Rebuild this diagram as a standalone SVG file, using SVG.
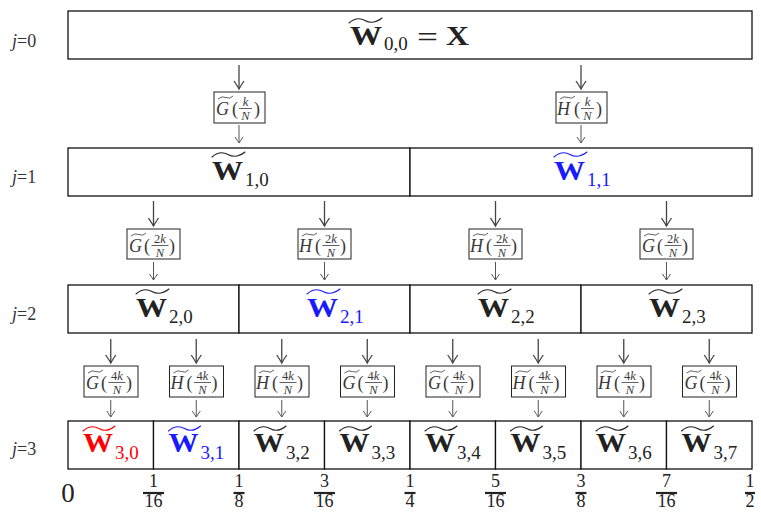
<svg xmlns="http://www.w3.org/2000/svg" width="761" height="512" viewBox="0 0 761 512">
<defs>
<style>
text{font-family:"Liberation Serif","Times New Roman",serif}
.cell{fill:#fff;stroke:#111;stroke-width:1.3}
.fbox{fill:#fff;stroke:#222;stroke-width:1}
.W{font-weight:bold;font-size:27px}
.sub{font-size:19px}
.til{fill:none;stroke-width:1.1;stroke-linecap:round}
.jl{font-size:18px;fill:#333}
.ff{fill:#3a3a3a}
.fl{font-size:18px;font-style:italic}
.fp{font-size:18px}
.fn{font-size:12.5px;text-anchor:middle}
.fbar{stroke:#3a3a3a;stroke-width:0.8}
.ft{fill:none;stroke:#3a3a3a;stroke-width:0.8}
.big{stroke:#444;stroke-width:1.3;fill:none;marker-end:url(#hb)}
.sml{stroke:#555;stroke-width:1;fill:none;marker-end:url(#hs)}
.ax{font-size:18px;fill:#222;text-anchor:middle}
.axbar{stroke:#222;stroke-width:2.2}
.blk{stroke:#222}
.red{stroke:#ff0000}
.blue{stroke:#1a1aff}
</style>
<marker id="hb" viewBox="-9 -6 11 12" refX="0" refY="0" markerWidth="11" markerHeight="12" markerUnits="userSpaceOnUse" orient="auto">
<path d="M-8,-5 Q-2,-1 0,0 Q-2,1 -8,5" fill="none" stroke="#444" stroke-width="1.3"/>
</marker>
<marker id="hs" viewBox="-7 -5 9 10" refX="0" refY="0" markerWidth="9" markerHeight="10" markerUnits="userSpaceOnUse" orient="auto">
<path d="M-6,-4 Q-1.5,-1 0,0 Q-1.5,1 -6,4" fill="none" stroke="#555" stroke-width="1"/>
</marker>
</defs>
<rect width="761" height="512" fill="#fff"/>

<g id="level-labels">
<text class="jl" x="12" y="47"><tspan font-style="italic">j</tspan>=0</text>
<text class="jl" x="12" y="183"><tspan font-style="italic">j</tspan>=1</text>
<text class="jl" x="12" y="320"><tspan font-style="italic">j</tspan>=2</text>
<text class="jl" x="12" y="455"><tspan font-style="italic">j</tspan>=3</text>
</g>

<!-- row 0 -->
<g id="W00">
<rect class="cell" x="68" y="11" width="684" height="48" stroke-width="1.6"/>
<path class="til blk" d="M349,23 Q357,16 365,20.5 T382,18"/>
<text class="W" x="350" y="45" fill="#222" textLength="32" lengthAdjust="spacingAndGlyphs">W</text>
<text class="sub" x="384" y="50" fill="#222">0,0</text>
<text x="417" y="47" style="font-size:30px" fill="#222" textLength="21" lengthAdjust="spacingAndGlyphs">=</text>
<text class="W" x="446" y="45" fill="#222" textLength="23" lengthAdjust="spacingAndGlyphs">X</text>
</g>

<!-- row 1 -->
<g id="W10">
<rect class="cell" x="68" y="148" width="342" height="48"/>
<path class="til blk" d="M212,157 Q220,150 228,154.5 T245,152"/>
<text class="W" x="212" y="180" fill="#222" textLength="31" lengthAdjust="spacingAndGlyphs">W</text>
<text class="sub" x="245" y="186" fill="#222">1,0</text>
</g>
<g id="W11">
<rect class="cell" x="410" y="148" width="342" height="48"/>
<path class="til blue" d="M554,157 Q562,150 570,154.5 T587,152"/>
<text class="W" x="554" y="180" fill="#1a1aff" textLength="31" lengthAdjust="spacingAndGlyphs">W</text>
<text class="sub" x="587" y="186" fill="#1a1aff">1,1</text>
</g>

<!-- row 2 -->
<g id="W20">
<rect class="cell" x="68" y="285" width="171" height="48"/>
<path class="til blk" d="M136,294 Q144,287 152,291.5 T169,289"/>
<text class="W" x="136" y="317" fill="#222" textLength="31" lengthAdjust="spacingAndGlyphs">W</text>
<text class="sub" x="169" y="323" fill="#222">2,0</text>
</g>
<g id="W21">
<rect class="cell" x="239" y="285" width="171" height="48"/>
<path class="til blue" d="M307,294 Q315,287 323,291.5 T340,289"/>
<text class="W" x="307" y="317" fill="#1a1aff" textLength="31" lengthAdjust="spacingAndGlyphs">W</text>
<text class="sub" x="340" y="323" fill="#1a1aff">2,1</text>
</g>
<g id="W22">
<rect class="cell" x="410" y="285" width="171" height="48"/>
<path class="til blk" d="M478,294 Q486,287 494,291.5 T511,289"/>
<text class="W" x="478" y="317" fill="#222" textLength="31" lengthAdjust="spacingAndGlyphs">W</text>
<text class="sub" x="511" y="323" fill="#222">2,2</text>
</g>
<g id="W23">
<rect class="cell" x="581" y="285" width="171" height="48"/>
<path class="til blk" d="M649,294 Q657,287 665,291.5 T682,289"/>
<text class="W" x="649" y="317" fill="#222" textLength="31" lengthAdjust="spacingAndGlyphs">W</text>
<text class="sub" x="682" y="323" fill="#222">2,3</text>
</g>

<!-- row 3 -->
<g id="W30">
<rect class="cell" x="68" y="421" width="85.5" height="48"/>
<path class="til red" d="M83,431 Q91,424 99,428.5 T115,426"/>
<text class="W" x="83" y="452" fill="#ff0000" textLength="30" lengthAdjust="spacingAndGlyphs">W</text>
<text class="sub" x="115" y="459" fill="#ff0000">3,0</text>
</g>
<g id="W31">
<rect class="cell" x="153.5" y="421" width="85.5" height="48"/>
<path class="til blue" d="M168.5,431 Q176.5,424 184.5,428.5 T200.5,426"/>
<text class="W" x="168.5" y="452" fill="#1a1aff" textLength="30" lengthAdjust="spacingAndGlyphs">W</text>
<text class="sub" x="200.5" y="459" fill="#1a1aff">3,1</text>
</g>
<g id="W32">
<rect class="cell" x="239" y="421" width="85.5" height="48"/>
<path class="til blk" d="M254,431 Q262,424 270,428.5 T286,426"/>
<text class="W" x="254" y="452" fill="#222" textLength="30" lengthAdjust="spacingAndGlyphs">W</text>
<text class="sub" x="286" y="459" fill="#222">3,2</text>
</g>
<g id="W33">
<rect class="cell" x="324.5" y="421" width="85.5" height="48"/>
<path class="til blk" d="M339.5,431 Q347.5,424 355.5,428.5 T371.5,426"/>
<text class="W" x="339.5" y="452" fill="#222" textLength="30" lengthAdjust="spacingAndGlyphs">W</text>
<text class="sub" x="371.5" y="459" fill="#222">3,3</text>
</g>
<g id="W34">
<rect class="cell" x="410" y="421" width="85.5" height="48"/>
<path class="til blk" d="M425,431 Q433,424 441,428.5 T457,426"/>
<text class="W" x="425" y="452" fill="#222" textLength="30" lengthAdjust="spacingAndGlyphs">W</text>
<text class="sub" x="457" y="459" fill="#222">3,4</text>
</g>
<g id="W35">
<rect class="cell" x="495.5" y="421" width="85.5" height="48"/>
<path class="til blk" d="M510.5,431 Q518.5,424 526.5,428.5 T542.5,426"/>
<text class="W" x="510.5" y="452" fill="#222" textLength="30" lengthAdjust="spacingAndGlyphs">W</text>
<text class="sub" x="542.5" y="459" fill="#222">3,5</text>
</g>
<g id="W36">
<rect class="cell" x="581" y="421" width="85.5" height="48"/>
<path class="til blk" d="M596,431 Q604,424 612,428.5 T628,426"/>
<text class="W" x="596" y="452" fill="#222" textLength="30" lengthAdjust="spacingAndGlyphs">W</text>
<text class="sub" x="628" y="459" fill="#222">3,6</text>
</g>
<g id="W37">
<rect class="cell" x="666.5" y="421" width="85.5" height="48"/>
<path class="til blk" d="M681.5,431 Q689.5,424 697.5,428.5 T713.5,426"/>
<text class="W" x="681.5" y="452" fill="#222" textLength="30" lengthAdjust="spacingAndGlyphs">W</text>
<text class="sub" x="713.5" y="459" fill="#222">3,7</text>
</g>

<!-- filters level 1 -->
<g id="F1-G" class="ff">
<rect class="fbox" x="214" y="92" width="51" height="31"/>
<path class="ft" d="M218,99 Q222,95.5 226,97.5 T233,96"/>
<text class="fl" x="216" y="115">G</text>
<text class="fp" x="232" y="115">(</text>
<text class="fn" x="245.5" y="106" font-style="italic">k</text>
<line class="fbar" x1="239" y1="108.5" x2="252" y2="108.5"/>
<text class="fn" x="245.5" y="120" font-style="italic">N</text>
<text class="fp" x="254" y="115">)</text>
</g>
<g id="F1-H" class="ff">
<rect class="fbox" x="556" y="92" width="51" height="31"/>
<path class="ft" d="M560,99 Q564,95.5 568,97.5 T575,96"/>
<text class="fl" x="557" y="115">H</text>
<text class="fp" x="574" y="115">(</text>
<text class="fn" x="587.5" y="106" font-style="italic">k</text>
<line class="fbar" x1="581" y1="108.5" x2="594" y2="108.5"/>
<text class="fn" x="587.5" y="120" font-style="italic">N</text>
<text class="fp" x="596" y="115">)</text>
</g>

<!-- filters level 2 -->
<g id="F2-0" class="ff">
<rect class="fbox" x="127" y="229" width="53" height="30"/>
<path class="ft" d="M131,236 Q135,232.5 139,234.5 T146,233"/>
<text class="fl" x="129" y="252">G</text>
<text class="fp" x="144" y="252">(</text>
<text class="fn" x="160" y="243">2<tspan font-style="italic">k</tspan></text>
<line class="fbar" x1="151.5" y1="245.5" x2="168.5" y2="245.5"/>
<text class="fn" x="160" y="257" font-style="italic">N</text>
<text class="fp" x="169" y="252">)</text>
</g>
<g id="F2-1" class="ff">
<rect class="fbox" x="298" y="229" width="53" height="30"/>
<path class="ft" d="M302,236 Q306,232.5 310,234.5 T317,233"/>
<text class="fl" x="299" y="252">H</text>
<text class="fp" x="315" y="252">(</text>
<text class="fn" x="331" y="243">2<tspan font-style="italic">k</tspan></text>
<line class="fbar" x1="322.5" y1="245.5" x2="339.5" y2="245.5"/>
<text class="fn" x="331" y="257" font-style="italic">N</text>
<text class="fp" x="340" y="252">)</text>
</g>
<g id="F2-2" class="ff">
<rect class="fbox" x="469" y="229" width="53" height="30"/>
<path class="ft" d="M473,236 Q477,232.5 481,234.5 T488,233"/>
<text class="fl" x="470" y="252">H</text>
<text class="fp" x="486" y="252">(</text>
<text class="fn" x="502" y="243">2<tspan font-style="italic">k</tspan></text>
<line class="fbar" x1="493.5" y1="245.5" x2="510.5" y2="245.5"/>
<text class="fn" x="502" y="257" font-style="italic">N</text>
<text class="fp" x="511" y="252">)</text>
</g>
<g id="F2-3" class="ff">
<rect class="fbox" x="640" y="229" width="53" height="30"/>
<path class="ft" d="M644,236 Q648,232.5 652,234.5 T659,233"/>
<text class="fl" x="642" y="252">G</text>
<text class="fp" x="657" y="252">(</text>
<text class="fn" x="673" y="243">2<tspan font-style="italic">k</tspan></text>
<line class="fbar" x1="664.5" y1="245.5" x2="681.5" y2="245.5"/>
<text class="fn" x="673" y="257" font-style="italic">N</text>
<text class="fp" x="682" y="252">)</text>
</g>

<!-- filters level 3 -->
<g id="F3-0" class="ff">
<rect class="fbox" x="84" y="366" width="54" height="31"/>
<path class="ft" d="M88,373 Q92,369.5 96,371.5 T103,370"/>
<text class="fl" x="86" y="389">G</text>
<text class="fp" x="101" y="389">(</text>
<text class="fn" x="117" y="380">4<tspan font-style="italic">k</tspan></text>
<line class="fbar" x1="108.5" y1="382.5" x2="125.5" y2="382.5"/>
<text class="fn" x="117" y="394" font-style="italic">N</text>
<text class="fp" x="126" y="389">)</text>
</g>
<g id="F3-1" class="ff">
<rect class="fbox" x="169.5" y="366" width="54" height="31"/>
<path class="ft" d="M173.5,373 Q177.5,369.5 181.5,371.5 T188.5,370"/>
<text class="fl" x="170.5" y="389">H</text>
<text class="fp" x="186.5" y="389">(</text>
<text class="fn" x="202.5" y="380">4<tspan font-style="italic">k</tspan></text>
<line class="fbar" x1="194" y1="382.5" x2="211" y2="382.5"/>
<text class="fn" x="202.5" y="394" font-style="italic">N</text>
<text class="fp" x="211.5" y="389">)</text>
</g>
<g id="F3-2" class="ff">
<rect class="fbox" x="255" y="366" width="54" height="31"/>
<path class="ft" d="M259,373 Q263,369.5 267,371.5 T274,370"/>
<text class="fl" x="256" y="389">H</text>
<text class="fp" x="272" y="389">(</text>
<text class="fn" x="288" y="380">4<tspan font-style="italic">k</tspan></text>
<line class="fbar" x1="279.5" y1="382.5" x2="296.5" y2="382.5"/>
<text class="fn" x="288" y="394" font-style="italic">N</text>
<text class="fp" x="297" y="389">)</text>
</g>
<g id="F3-3" class="ff">
<rect class="fbox" x="340.5" y="366" width="54" height="31"/>
<path class="ft" d="M344.5,373 Q348.5,369.5 352.5,371.5 T359.5,370"/>
<text class="fl" x="342.5" y="389">G</text>
<text class="fp" x="357.5" y="389">(</text>
<text class="fn" x="373.5" y="380">4<tspan font-style="italic">k</tspan></text>
<line class="fbar" x1="365" y1="382.5" x2="382" y2="382.5"/>
<text class="fn" x="373.5" y="394" font-style="italic">N</text>
<text class="fp" x="382.5" y="389">)</text>
</g>
<g id="F3-4" class="ff">
<rect class="fbox" x="426" y="366" width="54" height="31"/>
<path class="ft" d="M430,373 Q434,369.5 438,371.5 T445,370"/>
<text class="fl" x="428" y="389">G</text>
<text class="fp" x="443" y="389">(</text>
<text class="fn" x="459" y="380">4<tspan font-style="italic">k</tspan></text>
<line class="fbar" x1="450.5" y1="382.5" x2="467.5" y2="382.5"/>
<text class="fn" x="459" y="394" font-style="italic">N</text>
<text class="fp" x="468" y="389">)</text>
</g>
<g id="F3-5" class="ff">
<rect class="fbox" x="511.5" y="366" width="54" height="31"/>
<path class="ft" d="M515.5,373 Q519.5,369.5 523.5,371.5 T530.5,370"/>
<text class="fl" x="512.5" y="389">H</text>
<text class="fp" x="528.5" y="389">(</text>
<text class="fn" x="544.5" y="380">4<tspan font-style="italic">k</tspan></text>
<line class="fbar" x1="536" y1="382.5" x2="553" y2="382.5"/>
<text class="fn" x="544.5" y="394" font-style="italic">N</text>
<text class="fp" x="553.5" y="389">)</text>
</g>
<g id="F3-6" class="ff">
<rect class="fbox" x="597" y="366" width="54" height="31"/>
<path class="ft" d="M601,373 Q605,369.5 609,371.5 T616,370"/>
<text class="fl" x="598" y="389">H</text>
<text class="fp" x="614" y="389">(</text>
<text class="fn" x="630" y="380">4<tspan font-style="italic">k</tspan></text>
<line class="fbar" x1="621.5" y1="382.5" x2="638.5" y2="382.5"/>
<text class="fn" x="630" y="394" font-style="italic">N</text>
<text class="fp" x="639" y="389">)</text>
</g>
<g id="F3-7" class="ff">
<rect class="fbox" x="682.5" y="366" width="54" height="31"/>
<path class="ft" d="M686.5,373 Q690.5,369.5 694.5,371.5 T701.5,370"/>
<text class="fl" x="684.5" y="389">G</text>
<text class="fp" x="699.5" y="389">(</text>
<text class="fn" x="715.5" y="380">4<tspan font-style="italic">k</tspan></text>
<line class="fbar" x1="707" y1="382.5" x2="724" y2="382.5"/>
<text class="fn" x="715.5" y="394" font-style="italic">N</text>
<text class="fp" x="724.5" y="389">)</text>
</g>

<g id="connectors">
<line class="big" x1="239" y1="65" x2="239" y2="89"/>
<line class="big" x1="581" y1="65" x2="581" y2="89"/>
<line class="sml" x1="239" y1="125" x2="239" y2="143"/>
<line class="sml" x1="581" y1="125" x2="581" y2="143"/>

<line class="big" x1="153.5" y1="201" x2="153.5" y2="226"/>
<line class="big" x1="324.5" y1="201" x2="324.5" y2="226"/>
<line class="big" x1="495.5" y1="201" x2="495.5" y2="226"/>
<line class="big" x1="666.5" y1="201" x2="666.5" y2="226"/>
<line class="sml" x1="153.5" y1="262" x2="153.5" y2="280"/>
<line class="sml" x1="324.5" y1="262" x2="324.5" y2="280"/>
<line class="sml" x1="495.5" y1="262" x2="495.5" y2="280"/>
<line class="sml" x1="666.5" y1="262" x2="666.5" y2="280"/>

<line class="big" x1="110.75" y1="339" x2="110.75" y2="363"/>
<line class="big" x1="196.25" y1="339" x2="196.25" y2="363"/>
<line class="big" x1="281.75" y1="339" x2="281.75" y2="363"/>
<line class="big" x1="367.25" y1="339" x2="367.25" y2="363"/>
<line class="big" x1="452.75" y1="339" x2="452.75" y2="363"/>
<line class="big" x1="538.25" y1="339" x2="538.25" y2="363"/>
<line class="big" x1="623.75" y1="339" x2="623.75" y2="363"/>
<line class="big" x1="709.25" y1="339" x2="709.25" y2="363"/>
<line class="sml" x1="110.75" y1="400" x2="110.75" y2="417"/>
<line class="sml" x1="196.25" y1="400" x2="196.25" y2="417"/>
<line class="sml" x1="281.75" y1="400" x2="281.75" y2="417"/>
<line class="sml" x1="367.25" y1="400" x2="367.25" y2="417"/>
<line class="sml" x1="452.75" y1="400" x2="452.75" y2="417"/>
<line class="sml" x1="538.25" y1="400" x2="538.25" y2="417"/>
<line class="sml" x1="623.75" y1="400" x2="623.75" y2="417"/>
<line class="sml" x1="709.25" y1="400" x2="709.25" y2="417"/>
</g>

<g id="axis">
<text class="ax" x="68" y="502" style="font-size:27px">0</text>
<text class="ax" x="153.5" y="487">1</text><line class="axbar" x1="143" y1="493" x2="164" y2="493"/><text class="ax" x="153.5" y="507">16</text>
<text class="ax" x="239" y="487">1</text><line class="axbar" x1="233.5" y1="493" x2="244.5" y2="493"/><text class="ax" x="239" y="507">8</text>
<text class="ax" x="324.5" y="487">3</text><line class="axbar" x1="314" y1="493" x2="335" y2="493"/><text class="ax" x="324.5" y="507">16</text>
<text class="ax" x="410" y="487">1</text><line class="axbar" x1="404.5" y1="493" x2="415.5" y2="493"/><text class="ax" x="410" y="507">4</text>
<text class="ax" x="495.5" y="487">5</text><line class="axbar" x1="485" y1="493" x2="506" y2="493"/><text class="ax" x="495.5" y="507">16</text>
<text class="ax" x="581" y="487">3</text><line class="axbar" x1="575.5" y1="493" x2="586.5" y2="493"/><text class="ax" x="581" y="507">8</text>
<text class="ax" x="666.5" y="487">7</text><line class="axbar" x1="656" y1="493" x2="677" y2="493"/><text class="ax" x="666.5" y="507">16</text>
<text class="ax" x="750" y="487">1</text><line class="axbar" x1="745" y1="493" x2="755" y2="493"/><text class="ax" x="750" y="507">2</text>
</g>
</svg>
